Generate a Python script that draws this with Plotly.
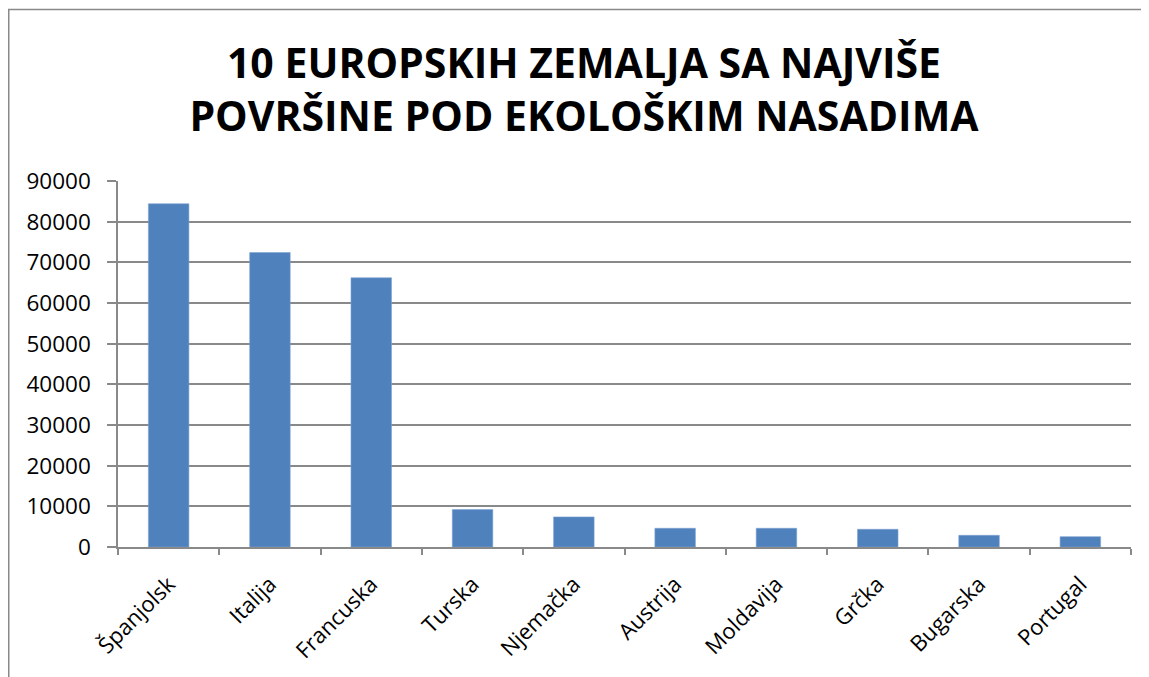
import plotly.graph_objects as go

countries = ["Španjolsk", "Italija", "Francuska", "Turska", "Njemačka",
             "Austrija", "Moldavija", "Grčka", "Bugarska", "Portugal"]
areas = [84400, 72400, 66200, 9200, 7400, 4600, 4600, 4350, 2870, 2550]
y_ticks = [0, 10000, 20000, 30000, 40000, 50000, 60000, 70000, 80000, 90000]

# page has an 8px body margin, so the figure is drawn 8px smaller and shifted
W, H = 1141, 669
L, R, T, B = 110, 18, 173, 130
pw, ph = W - L - R, H - T - B
grey = "#898989"

fig = go.Figure(go.Bar(
    x=countries, y=areas,
    marker=dict(color="#4F81BD", line=dict(color="#7FA3D1", width=0.6)),
    hoverinfo="x+y",
))

fig.update_layout(
    width=W, height=H,
    margin=dict(l=L, r=R, t=T, b=B, autoexpand=False),
    paper_bgcolor="white", plot_bgcolor="white",
    bargap=0.6,
    showlegend=False,
    font=dict(family="Open Sans, Liberation Sans, sans-serif", color="#000000"),
    title=dict(
        text="10 EUROPSKIH ZEMALJA SA NAJVIŠE<br>POVRŠINE POD EKOLOŠKIM NASADIMA",
        font=dict(family="Open Sans, Liberation Sans, sans-serif", size=41,
                  color="#000000", weight="bold"),
        x=576 / W, xanchor="center", xref="container",
        y=1 - 69.5 / H, yanchor="middle", yref="container",
    ),
    xaxis=dict(
        type="category",
        tickangle=-45,
        tickfont=dict(size=22, color="#000000"),
        ticks="outside", ticklen=6, tickcolor=grey, tickwidth=1.5,
        tickson="boundaries",
        ticklabelstandoff=14,
        showline=True, linecolor=grey, linewidth=1.5,
        showgrid=False,
        zeroline=False,
    ),
    yaxis=dict(
        range=[0, 90000],
        tickvals=y_ticks,
        ticktext=[str(v) for v in y_ticks],
        tickfont=dict(size=22.5, color="#000000"),
        ticks="outside", ticklen=9, tickcolor=grey, tickwidth=1.5,
        ticklabelstandoff=12,
        showline=True, linecolor=grey, linewidth=1.5,
        showgrid=True, gridcolor=grey, gridwidth=1.5,
        zeroline=False,
    ),
)

# outer chart frame (cropped on right and bottom in the reference)
fig.add_shape(
    type="rect", xref="paper", yref="paper",
    x0=(0.75 - L) / pw, x1=(W + 20 - L) / pw,
    y0=-(B + 20) / ph, y1=(H - B - 1.5) / ph,
    line=dict(color=grey, width=1.5), fillcolor="rgba(0,0,0,0)", layer="below",
)

fig.write_html("out.html")
